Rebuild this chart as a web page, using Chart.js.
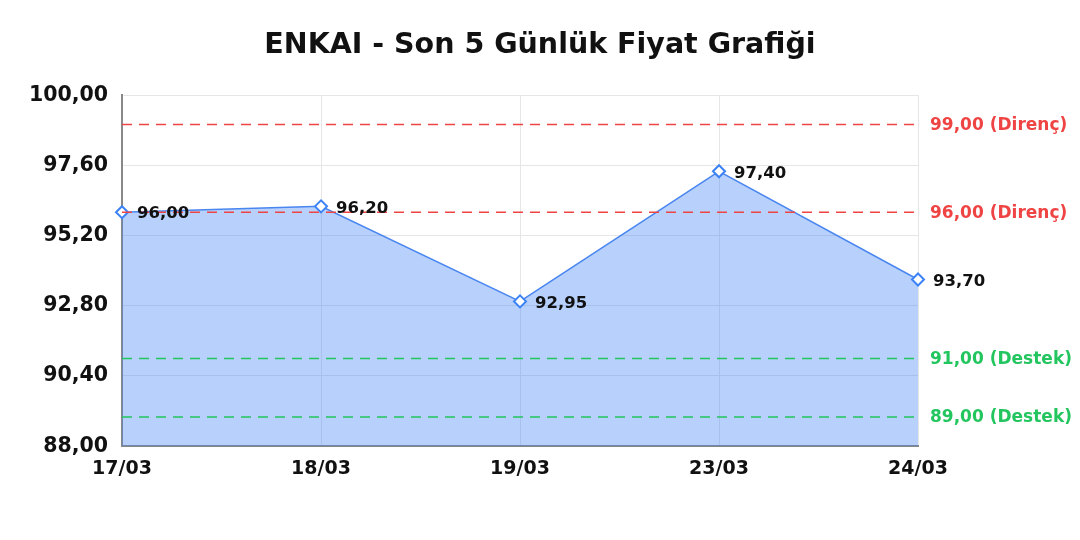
<!DOCTYPE html>
<html>
<head>
<meta charset="utf-8">
<script src="https://cdn.jsdelivr.net/npm/chart.js@4"></script>
<style>
  html, body { margin: 0; padding: 0; background: #fff; }
  #wrap { width: 1080px; height: 540px; }
</style>
</head>
<body>
<div id="wrap"><canvas id="priceChart" width="1080" height="540"></canvas></div>
<script>
const dates = ["17/03", "18/03", "19/03", "23/03", "24/03"];
const prices = [96.00, 96.20, 92.95, 97.40, 93.70];
const levelValues = [99.00, 96.00, 91.00, 89.00];
const levelKinds = ["Direnç", "Direnç", "Destek", "Destek"];
const yTicks = [88.00, 90.40, 92.80, 95.20, 97.60, 100.00];

const FONT = "'DejaVu Sans', sans-serif";

function fmt(v) {
  return v.toFixed(2).replace(".", ",");
}

// support / resistance lines with labels on the right
const levelLines = {
  id: "levelLines",
  afterDatasetsDraw(chart) {
    const ctx = chart.ctx;
    const area = chart.chartArea;
    const y = chart.scales.y;
    ctx.save();
    levelValues.forEach((v, i) => {
      const color = levelKinds[i] === "Direnç" ? "#ef4444" : "#22c55e";
      const py = y.getPixelForValue(v);
      ctx.strokeStyle = color;
      ctx.lineWidth = 1.5;
      ctx.setLineDash([10, 7]);
      ctx.beginPath();
      ctx.moveTo(area.left, py);
      ctx.lineTo(area.right, py);
      ctx.stroke();
      ctx.setLineDash([]);
      ctx.fillStyle = color;
      ctx.font = "bold 17px " + FONT;
      ctx.textAlign = "left";
      ctx.textBaseline = "middle";
      ctx.fillText(fmt(v) + " (" + levelKinds[i] + ")", area.right + 12, py + 1);
    });
    ctx.restore();
  }
};

// value labels next to points
const pointLabels = {
  id: "pointLabels",
  afterDraw(chart) {
    const ctx = chart.ctx;
    const meta = chart.getDatasetMeta(0);
    ctx.save();
    ctx.fillStyle = "#111";
    ctx.font = "bold 16.5px " + FONT;
    ctx.textAlign = "left";
    ctx.textBaseline = "middle";
    meta.data.forEach((pt, i) => {
      ctx.fillText(fmt(prices[i]), pt.x + 15, pt.y + 2);
    });
    ctx.restore();
  }
};

new Chart(document.getElementById("priceChart"), {
  type: "line",
  data: {
    labels: dates,
    datasets: [{
      data: prices,
      borderColor: "#4a86f0",
      borderWidth: 1.5,
      backgroundColor: "rgba(59,130,246,0.37)",
      fill: "start",
      tension: 0,
      pointStyle: "rectRot",
      pointRadius: 6,
      pointBorderWidth: 2,
      pointBackgroundColor: "#fff",
      pointBorderColor: "#3b82f6"
    }]
  },
  options: {
    responsive: false,
    animation: false,
    layout: { padding: { left: 0, right: 0, top: 0, bottom: 49 } },
    plugins: {
      legend: { display: false },
      tooltip: { enabled: false },
      title: {
        display: true,
        text: "ENKAI - Son 5 Günlük Fiyat Grafiği",
        color: "#111",
        font: { family: FONT, size: 28.5, weight: "bold" },
        padding: { top: 28, bottom: 33 }
      }
    },
    scales: {
      x: {
        offset: false,
        grid: { color: "#e6e6e6", drawTicks: false },
        border: { color: "#888", width: 2 },
        ticks: { color: "#111", font: { family: FONT, size: 19, weight: "bold" }, padding: 11, maxRotation: 0 }
      },
      y: {
        min: 88,
        max: 100,
        afterBuildTicks(axis) {
          axis.ticks = yTicks.map(v => ({ value: v }));
        },
        afterFit(axis) {
          axis.width = 122;
        },
        grid: { color: "#e6e6e6", drawTicks: false },
        border: { color: "#888", width: 2 },
        ticks: {
          color: "#111",
          font: { family: FONT, size: 20.5, weight: "bold" },
          padding: 14,
          callback: v => fmt(v)
        }
      },
      yRight: {
        position: "right",
        min: 88,
        max: 100,
        grid: { display: false },
        border: { display: false },
        ticks: { display: false },
        afterFit(axis) {
          axis.width = 162;
        }
      }
    }
  },
  plugins: [levelLines, pointLabels]
});
</script>
</body>
</html>
